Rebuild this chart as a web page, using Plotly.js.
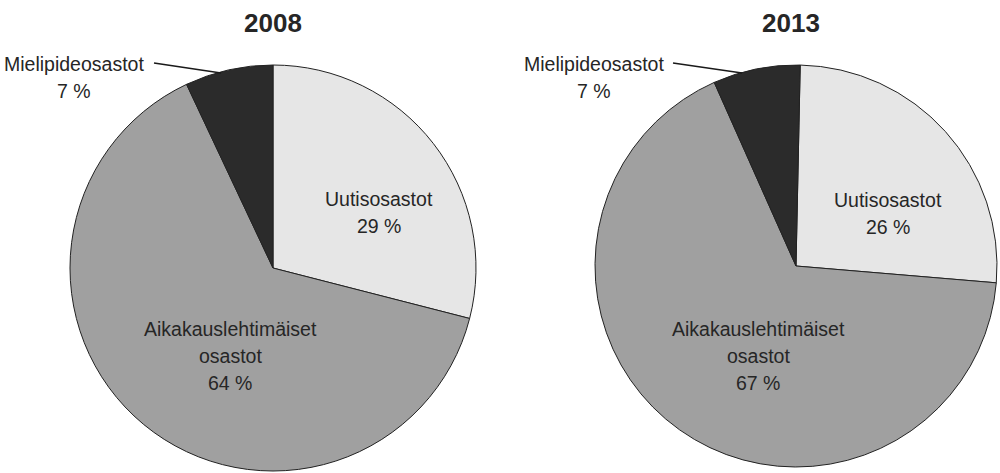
<!DOCTYPE html>
<html>
<head>
<meta charset="utf-8">
<script src="https://cdn.plot.ly/plotly-3.0.1.min.js"></script>
<style>
  html, body { margin: 0; padding: 0; background: #fff; }
  #chart { width: 1000px; height: 473px; }
</style>
</head>
<body>
<div id="chart"></div>
<script>
// data
const years = ["2008", "2013"];
const categories = ["Uutisosastot", "Aikakauslehtimäiset osastot", "Mielipideosastot"];
const labelLines = [["Uutisosastot"], ["Aikakauslehtimäiset", "osastot"], ["Mielipideosastot"]];
const values2008 = [29, 64, 7];
const values2013 = [26, 67, 7];
const sliceColors = ["#e6e6e6", "#a0a0a0", "#2b2b2b"];

const W = 1000, H = 473;
const px = x => x / W;
const py = y => 1 - y / H;
const font = "'Liberation Sans Narrow', 'Arial Narrow', 'Liberation Sans', Arial, sans-serif";
const textColor = "#262626";

function pieTrace(vals, dom, rot) {
    return {
        type: "pie",
        labels: categories,
        values: vals,
        sort: false,
        direction: "clockwise",
        rotation: rot,
        textinfo: "none",
        hoverinfo: "label+percent",
        marker: { colors: sliceColors, line: { color: "#222", width: 1 } },
        domain: dom,
        showlegend: false
    };
}

const data = [
    pieTrace(values2008, { x: [px(70), px(476)], y: [py(471), py(65)] }, 0),
    pieTrace(values2013, { x: [px(595), px(997)], y: [py(467), py(65)] }, 1.2)
];

// label positions in pixels: centre x, centre y of first line
const labelPos = [
    [[379, 198], [230, 328], [74, 63]],
    [[888, 199], [758, 328], [594, 63]]
];
const lineStep = 27;
const allValues = [values2008, values2013];
const titleX = [273, 791];

const annotations = [];
years.forEach((yr, i) => {
    annotations.push({
        text: "<b>" + yr + "</b>",
        x: px(titleX[i]), y: py(23),
        xref: "paper", yref: "paper",
        xanchor: "center", yanchor: "middle",
        showarrow: false,
        font: { family: font, size: 26, color: textColor }
    });
    labelLines.forEach((lines, j) => {
        const all = lines.concat([allValues[i][j] + " %"]);
        all.forEach((t, k) => {
            annotations.push({
                text: t,
                x: px(labelPos[i][j][0]), y: py(labelPos[i][j][1] + k * lineStep + 1),
                xref: "paper", yref: "paper",
                xanchor: "center", yanchor: "middle",
                showarrow: false,
                font: { family: font, size: 19.5, color: textColor }
            });
        });
    });
});

const shapes = [
    { type: "line", xref: "paper", yref: "paper", x0: px(154), y0: py(63), x1: px(221), y1: py(73),
      line: { color: "#1a1a1a", width: 1.5 } },
    { type: "line", xref: "paper", yref: "paper", x0: px(673), y0: py(63), x1: px(742), y1: py(73),
      line: { color: "#1a1a1a", width: 1.5 } }
];

const layout = {
    width: W,
    height: H,
    margin: { l: 0, r: 0, t: 0, b: 0 },
    paper_bgcolor: "#fff",
    annotations: annotations,
    shapes: shapes
};

Plotly.newPlot("chart", data, layout, { displayModeBar: false });
</script>
</body>
</html>
